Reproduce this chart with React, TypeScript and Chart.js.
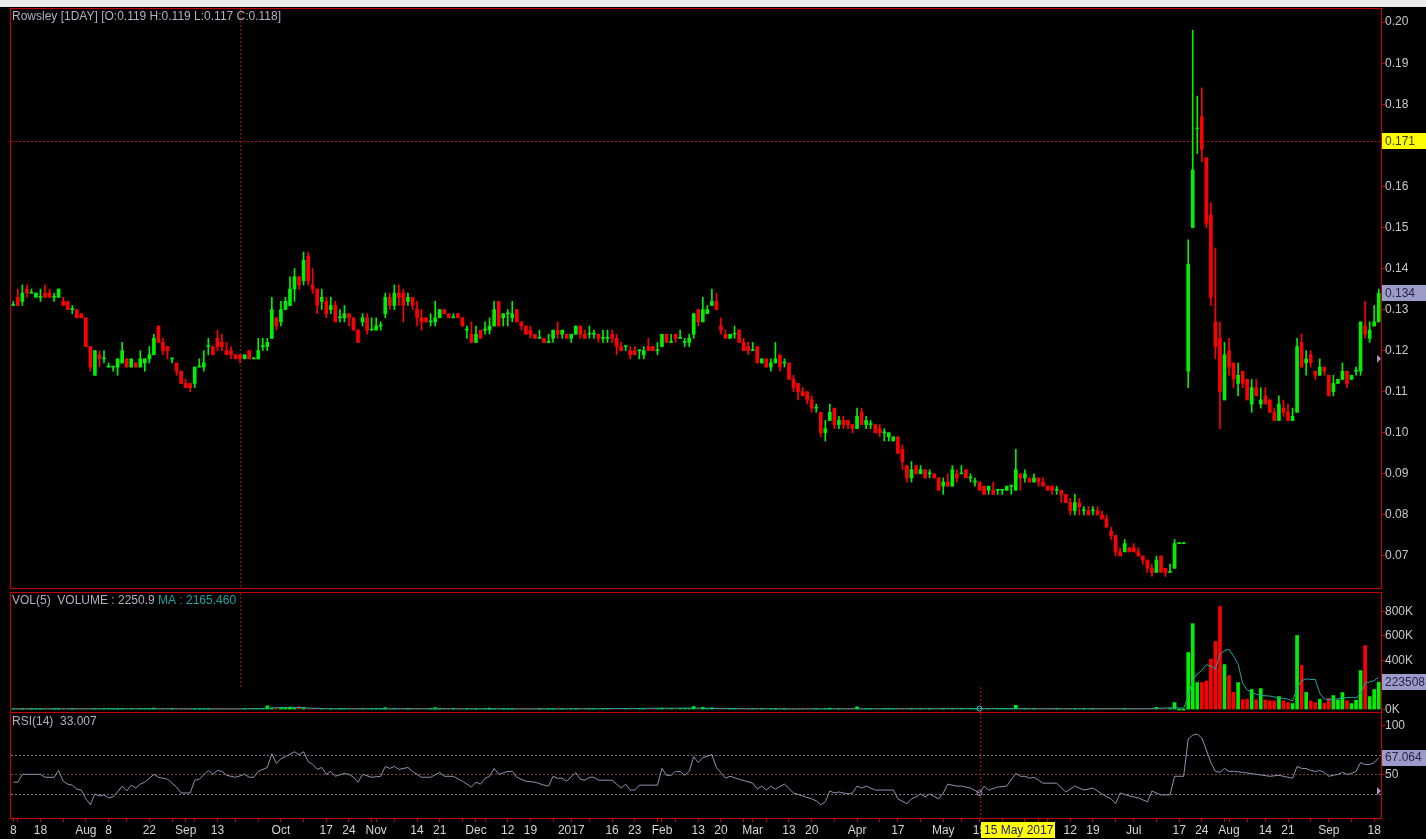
import React, { useEffect, useRef } from 'react';
import { Chart, registerables } from 'chart.js';

Chart.register(...registerables);

// ---------------- calendar ----------------
const startDate = '2016-07-08';
const endDate = '2017-09-19';
const holidays = ['2016-08-09', '2016-09-12', '2016-12-26', '2017-01-02', '2017-01-30', '2017-04-14', '2017-05-01', '2017-05-10', '2017-06-26', '2017-08-09', '2017-09-01'];

const xTickDates = ['2016-07-08', '2016-07-18', '2016-08-01', '2016-08-08', '2016-08-22', '2016-09-01', '2016-09-13', '2016-10-03', '2016-10-17', '2016-10-24',
  '2016-11-01', '2016-11-14', '2016-11-21', '2016-12-01', '2016-12-12', '2016-12-19', '2017-01-03', '2017-01-16', '2017-01-23', '2017-02-01',
  '2017-02-13', '2017-02-20', '2017-03-01', '2017-03-13', '2017-03-20', '2017-04-03', '2017-04-17', '2017-05-02', '2017-05-15', '2017-05-22',
  '2017-06-01', '2017-06-12', '2017-06-19', '2017-07-03', '2017-07-17', '2017-07-24', '2017-08-01', '2017-08-14', '2017-08-21', '2017-09-04',
  '2017-09-18'];
const xTickTexts = ['8', '18', 'Aug', '8', '22', 'Sep', '13', 'Oct', '17', '24',
  'Nov', '14', '21', 'Dec', '12', '19', '2017', '16', '23', 'Feb',
  '13', '20', 'Mar', '13', '20', 'Apr', '17', 'May', '15', '22',
  'Jun', '12', '19', 'Jul', '17', '24', 'Aug', '14', '21', 'Sep',
  '18'];

// ---------------- prices (in 0.001) ----------------
const opens = [
  131, 133, 132, 135, 134, 133, 133, 134, 134, 133,
  133, 132, 132, 130, 130, 129, 128, 121, 114, 119,
  118, 116, 116, 116, 117, 118, 116, 117, 116, 117,
  118, 119, 126, 122, 121, 118, 117, 115, 112, 112,
  112, 116, 116, 121, 121, 123, 122, 120, 120, 119,
  119, 118, 120, 118, 118, 121, 121, 123, 128, 127,
  130, 131, 135, 138, 137, 143, 136, 135, 132, 132,
  130, 131, 128, 128, 129, 128, 125, 127, 128, 125,
  125, 126, 129, 133, 131, 134, 134, 132, 133, 130,
  128, 128, 127, 127, 128, 130, 129, 128, 129, 128,
  125, 124, 122, 125, 125, 125, 126, 132, 128, 129,
  128, 130, 127, 126, 125, 124, 123, 123, 122, 123,
  125, 124, 124, 123, 124, 126, 124, 124, 124, 124,
  123, 123, 124, 123, 121, 121, 120, 120, 120, 119,
  121, 121, 120, 121, 124, 122, 124, 123, 122, 122,
  124, 130, 127, 129, 131, 132, 126, 124, 123, 124,
  125, 122, 121, 120, 121, 117, 118, 116, 117, 119,
  117, 117, 113, 112, 110, 110, 108, 106, 105, 100,
  103, 106, 102, 103, 103, 102, 101, 105, 102, 102,
  102, 101, 100, 99, 98, 99, 96, 92, 89, 92,
  90, 91, 90, 90, 89, 87, 88, 87, 90, 90,
  91, 89, 88, 88, 87, 86, 86, 86, 86, 86,
  87, 86, 90, 89, 89, 88, 89, 88, 87, 87,
  86, 86, 85, 83, 81, 83, 81, 81, 81, 81,
  80, 79, 76, 75, 71, 71, 72, 72, 71, 70,
  69, 67, 66, 70, 67, 66, 67, 73, 73, 115,
  150, 174, 177, 167, 153, 127, 123, 108, 120, 117,
  112, 115, 113, 107, 111, 107, 109, 108, 105, 103,
  106, 105, 103, 105, 122, 117, 119, 115, 114, 116,
  114, 110, 112, 113, 115, 113, 115, 115, 126, 123,
  126, 127,
];
const highs = [
  132, 135, 136, 136, 135, 134, 135, 136, 135, 134,
  135, 133, 132, 131, 130, 129, 128, 121, 120, 120,
  120, 117, 116, 118, 122, 118, 118, 117, 120, 118,
  121, 124, 126, 123, 121, 118, 117, 115, 113, 112,
  116, 118, 120, 123, 121, 125, 124, 122, 121, 119,
  119, 119, 120, 118, 123, 123, 123, 133, 128, 132,
  133, 138, 140, 138, 144, 144, 140, 135, 135, 133,
  133, 132, 130, 131, 129, 128, 125, 129, 129, 128,
  128, 127, 134, 134, 136, 136, 135, 134, 133, 132,
  130, 128, 129, 132, 130, 130, 129, 129, 129, 128,
  126, 127, 126, 125, 127, 128, 132, 132, 129, 130,
  132, 130, 127, 126, 126, 124, 125, 123, 124, 125,
  127, 125, 124, 124, 126, 126, 125, 126, 125, 124,
  125, 125, 125, 124, 122, 121, 121, 121, 120, 121,
  123, 121, 122, 124, 124, 124, 124, 125, 123, 124,
  129, 130, 133, 131, 135, 134, 128, 125, 124, 126,
  125, 123, 122, 122, 121, 118, 118, 118, 122, 119,
  118, 117, 114, 112, 111, 110, 109, 107, 105, 103,
  107, 106, 104, 104, 103, 102, 106, 106, 104, 103,
  102, 102, 101, 100, 99, 99, 97, 92, 93, 92,
  92, 91, 91, 90, 89, 89, 90, 92, 91, 92,
  91, 90, 89, 88, 87, 87, 88, 86, 86, 87,
  87, 96, 90, 91, 89, 90, 89, 89, 87, 87,
  87, 86, 85, 84, 85, 84, 82, 82, 82, 82,
  81, 80, 77, 75, 72, 74, 72, 73, 72, 70,
  69, 68, 70, 70, 67, 68, 74, 73, 73, 147,
  198, 182, 184, 167, 156, 145, 127, 122, 123, 117,
  117, 115, 113, 113, 113, 111, 111, 108, 106, 109,
  108, 107, 106, 123, 124, 120, 120, 115, 118, 116,
  114, 114, 113, 117, 115, 114, 116, 127, 132, 127,
  131, 135,
];
const lows = [
  131, 131, 131, 133, 134, 133, 132, 133, 133, 132,
  133, 131, 130, 129, 128, 128, 121, 115, 114, 116,
  117, 116, 115, 114, 117, 116, 116, 116, 116, 115,
  117, 119, 122, 119, 118, 117, 114, 112, 111, 110,
  111, 116, 115, 119, 119, 120, 120, 119, 118, 118,
  117, 118, 118, 118, 118, 120, 120, 123, 125, 126,
  130, 131, 132, 135, 136, 136, 134, 129, 130, 128,
  129, 127, 127, 127, 126, 125, 122, 126, 124, 125,
  125, 125, 128, 130, 130, 131, 127, 131, 130, 126,
  125, 127, 126, 126, 128, 129, 128, 128, 128, 126,
  123, 122, 122, 123, 124, 124, 126, 126, 126, 126,
  127, 127, 125, 124, 123, 123, 123, 122, 122, 122,
  123, 123, 123, 122, 124, 123, 123, 123, 123, 122,
  122, 122, 122, 119, 120, 120, 118, 119, 118, 118,
  120, 120, 119, 121, 122, 122, 122, 123, 121, 121,
  123, 126, 127, 129, 131, 130, 124, 123, 123, 123,
  122, 120, 119, 120, 117, 117, 116, 115, 117, 115,
  116, 113, 110, 108, 109, 107, 105, 105, 99, 98,
  103, 101, 101, 101, 101, 100, 101, 102, 101, 101,
  100, 99, 98, 98, 98, 95, 91, 88, 88, 90,
  90, 89, 89, 89, 86, 85, 87, 87, 88, 90,
  89, 88, 87, 86, 85, 85, 85, 85, 85, 86,
  85, 86, 86, 88, 88, 88, 87, 87, 86, 85,
  85, 83, 83, 80, 80, 80, 80, 80, 80, 80,
  79, 77, 74, 70, 70, 71, 71, 71, 70, 68,
  66, 65, 66, 66, 65, 66, 67, 73, 73, 111,
  150, 168, 166, 150, 131, 118, 101, 108, 114, 111,
  109, 111, 108, 105, 109, 106, 107, 105, 103, 103,
  104, 103, 103, 105, 116, 114, 116, 113, 114, 114,
  109, 109, 112, 113, 111, 113, 114, 114, 123, 122,
  126, 127,
];
const closes = [
  131, 131, 134, 134, 134, 134, 133, 133, 133, 133,
  135, 131, 130, 130, 128, 128, 121, 116, 120, 118,
  118, 116, 116, 118, 120, 116, 118, 116, 118, 118,
  119, 123, 122, 120, 120, 118, 115, 112, 111, 111,
  116, 116, 117, 121, 119, 121, 121, 119, 119, 118,
  118, 119, 118, 118, 120, 121, 122, 130, 126, 130,
  132, 135, 138, 136, 142, 137, 135, 131, 133, 129,
  131, 127, 128, 129, 128, 125, 122, 128, 125, 125,
  126, 126, 133, 131, 134, 133, 131, 133, 131, 128,
  127, 127, 127, 128, 130, 129, 128, 128, 128, 126,
  125, 122, 124, 123, 125, 126, 130, 126, 129, 129,
  129, 127, 126, 124, 124, 123, 123, 122, 122, 125,
  124, 125, 123, 124, 126, 124, 123, 124, 124, 123,
  123, 123, 123, 121, 120, 121, 119, 119, 120, 120,
  120, 120, 120, 124, 122, 122, 123, 123, 122, 123,
  129, 127, 130, 130, 132, 130, 125, 123, 124, 124,
  122, 120, 120, 120, 117, 118, 116, 117, 118, 116,
  117, 113, 111, 110, 109, 108, 106, 106, 100, 101,
  105, 102, 103, 102, 102, 101, 104, 102, 103, 102,
  100, 100, 100, 100, 99, 95, 93, 89, 91, 90,
  91, 89, 90, 89, 86, 88, 87, 91, 89, 90,
  89, 89, 88, 86, 85, 87, 85, 86, 86, 87,
  87, 91, 89, 90, 88, 89, 88, 87, 86, 86,
  86, 85, 83, 81, 83, 82, 81, 80, 81, 80,
  79, 77, 75, 71, 70, 73, 71, 71, 70, 69,
  67, 66, 69, 66, 66, 66, 73, 73, 73, 141,
  164, 174, 169, 151, 133, 121, 110, 119, 116, 113,
  114, 112, 108, 111, 109, 108, 107, 105, 103, 107,
  105, 103, 104, 121, 116, 118, 117, 114, 116, 115,
  109, 112, 113, 115, 112, 114, 115, 127, 124, 125,
  127, 134,
];

// ---------------- volume (K shares) ----------------
const volumes = [
  5, 4, 6, 3, 5, 4, 3, 6, 4, 5,
  3, 4, 5, 6, 4, 3, 5, 4, 6, 5,
  4, 3, 5, 4, 6, 3, 4, 5, 4, 6,
  5, 12, 4, 3, 5, 6, 4, 5, 3, 4,
  6, 5, 4, 3, 5, 4, 6, 4, 3, 5,
  2, 4, 5, 3, 6, 4, 30, 12, 15, 18,
  15, 20, 12, 22, 10, 8, 6, 5, 7, 4,
  5, 6, 4, 5, 3, 6, 4, 5, 4, 3,
  5, 4, 15, 6, 4, 5, 3, 4, 6, 5,
  4, 5, 3, 15, 4, 6, 5, 4, 3, 5,
  4, 6, 5, 3, 4, 12, 5, 6, 4, 3,
  5, 4, 6, 3, 5, 4, 3, 5, 4, 6,
  5, 3, 4, 6, 4, 5, 3, 4, 5, 6,
  4, 3, 5, 4, 6, 5, 3, 4, 5, 4,
  3, 5, 4, 12, 5, 6, 4, 3, 5, 6,
  25, 8, 18, 6, 14, 5, 4, 6, 3, 5,
  4, 5, 6, 3, 4, 5, 4, 6, 10, 5,
  4, 3, 5, 6, 4, 5, 3, 4, 6, 5,
  12, 4, 5, 3, 6, 4, 22, 5, 4, 6,
  3, 5, 4, 6, 4, 5, 3, 4, 5, 6,
  4, 3, 5, 4, 6, 5, 4, 3, 5, 4,
  6, 5, 4, 8, 5, 3, 4, 6, 5, 4,
  5, 35, 6, 4, 5, 3, 4, 6, 5, 4,
  3, 5, 4, 6, 5, 4, 3, 5, 4, 6,
  5, 4, 6, 3, 5, 4, 5, 3, 4, 6,
  5, 4, 18, 5, 4, 6, 57, 0, 0, 465,
  700, 220, 220, 232, 410, 555, 840, 367, 277, 140,
  220, 80, 85, 163, 80, 171, 78, 71, 71, 106,
  71, 57, 49, 604, 359, 140, 71, 57, 85, 51,
  90, 114, 79, 139, 71, 49, 76, 318, 522, 106,
  163, 223.508,
];

// MA(5) of volume: [day index, K]
const volMaPoints = [
  [0, 5], [30, 6], [50, 5], [56, 10], [58, 15], [60, 17], [62, 18], [64, 16], [66, 10], [70, 6],
  [90, 6], [120, 5], [150, 12], [156, 8], [170, 5], [220, 8], [226, 6], [250, 6], [256, 15], [257, 12],
  [258, 12], [259, 105], [260, 245], [261, 290], [262, 320], [263, 365], [264, 355], [265, 330], [266, 450], [267, 480],
  [268, 490], [269, 435], [270, 370], [271, 215], [272, 160], [273, 140], [274, 125], [275, 115], [277, 110], [279, 95],
  [281, 85], [282, 70], [283, 175], [284, 235], [285, 250], [286, 245], [287, 245], [288, 135], [289, 85], [291, 80],
  [293, 95], [295, 100], [296, 95], [297, 130], [298, 215], [299, 225], [300, 235], [301, 265],
];

// RSI(14): [day index, value]
const rsiPoints = [
  [0, 42], [1, 42], [2, 50], [6, 50], [7, 47], [9, 47], [10, 54], [11, 43], [12, 40], [13, 39],
  [14, 35], [15, 34], [16, 25], [17, 19], [18, 30], [19, 28], [20, 29], [21, 26], [22, 27], [23, 32],
  [24, 38], [25, 33], [26, 39], [27, 36], [28, 40], [29, 42], [31, 50], [32, 47], [34, 45], [36, 37],
  [37, 31], [39, 31], [40, 44], [41, 45], [43, 54], [44, 50], [45, 54], [46, 53], [47, 49], [49, 47],
  [51, 50], [52, 47], [53, 47], [54, 53], [56, 57], [57, 71], [58, 61], [59, 66], [60, 68], [62, 73],
  [63, 70], [64, 73], [65, 63], [66, 60], [67, 55], [68, 57], [69, 50], [70, 53], [71, 48], [73, 51],
  [74, 50], [75, 47], [76, 42], [77, 50], [79, 47], [81, 48], [82, 58], [83, 56], [84, 58], [85, 55],
  [87, 57], [88, 53], [90, 47], [92, 47], [94, 52], [95, 48], [97, 48], [99, 43], [101, 37], [102, 42],
  [103, 40], [104, 46], [105, 48], [106, 56], [107, 50], [109, 53], [110, 53], [111, 47], [113, 43], [115, 42],
  [117, 39], [118, 38], [119, 48], [120, 46], [121, 46], [122, 43], [124, 52], [125, 45], [126, 44], [127, 47],
  [128, 47], [129, 44], [132, 44], [133, 40], [134, 36], [135, 40], [136, 34], [137, 34], [138, 39], [142, 39],
  [143, 56], [144, 49], [145, 49], [146, 53], [147, 53], [148, 49], [149, 53], [150, 68], [151, 62], [152, 67],
  [154, 70], [155, 57], [157, 46], [158, 48], [160, 45], [163, 41], [164, 35], [165, 38], [166, 34], [167, 38],
  [168, 35], [170, 40], [172, 31], [174, 28], [176, 25], [177, 23], [178, 19], [179, 22], [180, 33], [181, 31],
  [182, 32], [184, 30], [185, 31], [186, 38], [187, 36], [188, 38], [190, 34], [194, 34], [195, 25], [197, 20],
  [198, 25], [199, 27], [200, 30], [201, 27], [202, 30], [204, 25], [205, 31], [206, 40], [208, 38], [209, 38],
  [211, 36], [213, 31], [214, 38], [215, 34], [217, 37], [219, 38], [221, 51], [222, 48], [223, 48], [224, 46],
  [225, 47], [227, 41], [230, 41], [232, 32], [234, 38], [236, 34], [238, 36], [240, 30], [242, 25], [243, 20],
  [244, 31], [246, 28], [248, 26], [250, 22], [251, 33], [253, 29], [255, 29], [256, 48], [257, 48], [258, 48],
  [259, 86], [260, 90], [261, 91], [262, 87], [263, 75], [264, 62], [265, 53], [266, 52], [267, 56], [268, 53],
  [269, 53], [271, 52], [274, 50], [277, 48], [279, 49], [282, 46], [283, 58], [284, 56], [285, 56], [286, 54],
  [287, 53], [288, 54], [289, 52], [290, 48], [291, 49], [292, 50], [293, 52], [294, 50], [295, 51], [296, 53],
  [297, 62], [298, 60], [299, 60], [300, 62], [301, 67],
];

// axis ticks
const priceTicks = [0.07, 0.08, 0.09, 0.10, 0.11, 0.12, 0.13, 0.14, 0.15, 0.16, 0.17, 0.18, 0.19, 0.20];
const volTicks = [0, 200, 400, 600, 800];
const rsiTicks = [50, 100];
const rsiLevels = [30, 50, 70];

// cursor / header readouts
const crosshairDayA = 50;
const crosshairDayB = 213;
const cursorPrice = 0.171;
const cursorVolK = 184;
const headerVolume = '2250.9';
const headerVolMa = '2165.460';
const headerRsi = '33.007';
const lastRsiText = '67.064';
const cursorDateText = '15 May 2017';

// ---------------- derived ----------------
function tradingDays(): string[] {
  const out: string[] = [];
  const d = new Date(startDate + 'T00:00:00Z');
  const end = new Date(endDate + 'T00:00:00Z');
  while (d.getTime() <= end.getTime()) {
    const dow = d.getUTCDay();
    const s = d.toISOString().slice(0, 10);
    if (dow !== 0 && dow !== 6 && holidays.indexOf(s) < 0) out.push(s);
    d.setUTCDate(d.getUTCDate() + 1);
  }
  return out;
}
const dates = tradingDays();
const N = dates.length;
const dow = (s: string) => new Date(s + 'T00:00:00Z').getUTCDay();

const tickText: Record<number, string> = {};
xTickDates.forEach((d, k) => {
  const i = dates.indexOf(d);
  if (i >= 0) tickText[i] = xTickTexts[k];
});
const weekTicks: number[] = [];
for (let i = 0; i < N; i++) {
  if (i === 0 || dow(dates[i]) < dow(dates[i - 1]) || tickText[i] !== undefined) weekTicks.push(i);
}

// ---------------- styles ----------------
const FONT = '"Liberation Sans", Arial, sans-serif';
const RED = '#c80000';
const UP = '#00f000';
const DOWN = '#ff0000';
const AXIS_TEXT = '#c8c8c8';
const HEAD_TEXT = '#b0b0c4';
const LAV = '#9c9cc8';
const LAV_TEXT = '#26264a';
const MA_COLOR = '#1fa5a5';
const RSI_COLOR = '#9090b4';
const W = 1426;
const PLOT_LEFT = 11;
const AXIS_W = 45;

const candleColors = closes.map((c, i) => (c >= opens[i] ? UP : DOWN));

function snap(v: number) {
  return Math.round(v) + 0.5;
}
function dotted(ctx: any, x1: number, y1: number, x2: number, y2: number, color: string, dash = [2, 2]) {
  ctx.save();
  ctx.beginPath();
  ctx.setLineDash(dash);
  ctx.strokeStyle = color;
  ctx.lineWidth = 1;
  ctx.moveTo(x1, y1);
  ctx.lineTo(x2, y2);
  ctx.stroke();
  ctx.restore();
}
function border(chart: any) {
  const { ctx, chartArea: ca } = chart;
  ctx.save();
  ctx.strokeStyle = RED;
  ctx.lineWidth = 1;
  ctx.setLineDash([]);
  ctx.strokeRect(ca.left - 0.5, ca.top - 0.5, ca.right - ca.left + 1, ca.bottom - ca.top + 1);
  ctx.restore();
}
function text(ctx: any, s: string, x: number, y: number, color: string, align = 'left') {
  ctx.save();
  ctx.font = `12px ${FONT}`;
  ctx.fillStyle = color;
  ctx.textBaseline = 'middle';
  ctx.textAlign = align;
  ctx.fillText(s, x, y);
  ctx.restore();
}
function valueBox(chart: any, y: number, s: string, bg: string, fg: string) {
  const { ctx, chartArea: ca } = chart;
  const x = ca.right + 1;
  ctx.save();
  ctx.fillStyle = bg;
  ctx.fillRect(x, Math.round(y - 8), W - x, 16);
  ctx.restore();
  text(ctx, s, x + 3, y + 0.5, fg);
}
function triangle(chart: any, y: number) {
  const { ctx, chartArea: ca } = chart;
  ctx.save();
  ctx.fillStyle = LAV;
  ctx.beginPath();
  ctx.moveTo(ca.right - 4, y - 4);
  ctx.lineTo(ca.right, y);
  ctx.lineTo(ca.right - 4, y + 4);
  ctx.closePath();
  ctx.fill();
  ctx.restore();
}

const xHidden = { type: 'linear', min: -0.5, max: N - 0.5, offset: false, display: false };

function rightAxis(min: number, max: number, ticks: number[], fmt: (v: number) => string) {
  return {
    type: 'linear',
    position: 'right',
    min,
    max,
    beginAtZero: false,
    afterBuildTicks: (s: any) => {
      s.ticks = ticks.map((v) => ({ value: v }));
    },
    afterFit: (s: any) => {
      s.width = AXIS_W;
    },
    ticks: { callback: (v: any) => fmt(Number(v)), color: AXIS_TEXT, font: { family: FONT, size: 12 }, padding: 0, autoSkip: false },
    grid: { drawOnChartArea: false, color: RED, tickLength: 4 },
    border: { color: RED },
  };
}

const baseOptions = (padding: any) => ({
  animation: false,
  responsive: false,
  devicePixelRatio: 1,
  events: [],
  layout: { padding },
  plugins: { legend: { display: false }, tooltip: { enabled: false } },
});

function mainConfig(): any {
  const decor = {
    id: 'mainDecor',
    beforeDatasetsDraw(chart: any) {
      const { ctx, chartArea: ca, scales } = chart;
      const cx = snap(scales.x.getPixelForValue(crosshairDayA));
      dotted(ctx, cx, ca.top, cx, ca.bottom, '#b00000');
      const cy = snap(scales.y.getPixelForValue(cursorPrice));
      dotted(ctx, ca.left, cy, ca.right, cy, '#b00000');
    },
    afterDraw(chart: any) {
      const { ctx, scales } = chart;
      border(chart);
      const i = crosshairDayA;
      const f = (v: number) => (v / 1000).toFixed(3);
      text(ctx, `Rowsley [1DAY] [O:${f(opens[i])} H:${f(highs[i])} L:${f(lows[i])} C:${f(closes[i])}]`, 12, 17, HEAD_TEXT);
      valueBox(chart, scales.y.getPixelForValue(cursorPrice), cursorPrice.toFixed(3), '#ffff00', '#3a3a00');
      const last = closes[N - 1] / 1000;
      valueBox(chart, scales.y.getPixelForValue(last), last.toFixed(3), LAV, LAV_TEXT);
      triangle(chart, scales.y.getPixelForValue(closes[i] / 1000));
    },
  };
  return {
    type: 'bar',
    data: {
      datasets: [
        {
          data: dates.map((_, i) => ({ x: i, y: [opens[i] / 1000, closes[i] / 1000] })),
          backgroundColor: candleColors,
          borderWidth: 0,
          barThickness: 3,
          minBarLength: 1,
          grouped: false,
          order: 0,
        },
        {
          data: dates.map((_, i) => ({ x: i, y: [lows[i] / 1000, highs[i] / 1000] })),
          backgroundColor: candleColors,
          borderWidth: 0,
          barThickness: 1,
          minBarLength: 1,
          grouped: false,
          order: 1,
        },
      ],
    },
    options: {
      ...baseOptions({ top: 9, left: PLOT_LEFT, right: 0, bottom: 12 }),
      scales: {
        x: xHidden,
        y: rightAxis(0.0622, 0.2032, priceTicks, (v) => v.toFixed(2)),
      },
    },
    plugins: [decor],
  };
}

function volConfig(): any {
  const decor = {
    id: 'volDecor',
    beforeDatasetsDraw(chart: any) {
      const { ctx, chartArea: ca, scales } = chart;
      const ya = scales.y.getPixelForValue(cursorVolK);
      const xa = snap(scales.x.getPixelForValue(crosshairDayA));
      dotted(ctx, xa, ca.top, xa, ya, '#b00000');
      const xb = snap(scales.x.getPixelForValue(crosshairDayB));
      dotted(ctx, xb, ya, xb, ca.bottom, '#b00000');
    },
    afterDraw(chart: any) {
      const { ctx, scales } = chart;
      border(chart);
      text(ctx, `VOL(5)  VOLUME : ${headerVolume}`, 12, 18, HEAD_TEXT);
      text(ctx, `MA : ${headerVolMa}`, 158, 18, MA_COLOR);
      const lastV = volumes[N - 1];
      valueBox(chart, scales.y.getPixelForValue(lastV), String(Math.round(lastV * 1000)), LAV, LAV_TEXT);
      ctx.save();
      ctx.strokeStyle = '#30c0c0';
      ctx.lineWidth = 1;
      ctx.beginPath();
      ctx.arc(scales.x.getPixelForValue(crosshairDayB), scales.y.getPixelForValue(0) - 1, 2.5, 0, Math.PI * 2);
      ctx.stroke();
      ctx.restore();
    },
  };
  return {
    type: 'bar',
    data: {
      datasets: [
        {
          type: 'line',
          data: volMaPoints.map(([i, v]) => ({ x: i, y: v })),
          borderColor: MA_COLOR,
          borderWidth: 1,
          pointRadius: 0,
          tension: 0,
          order: 0,
        },
        {
          type: 'bar',
          data: volumes.map((v, i) => ({ x: i, y: v })),
          backgroundColor: candleColors,
          borderWidth: 0,
          barThickness: 3,
          minBarLength: 1,
          grouped: false,
          order: 1,
        },
      ],
    },
    options: {
      ...baseOptions({ top: 10, left: PLOT_LEFT, right: 0, bottom: 11 }),
      scales: {
        x: xHidden,
        y: rightAxis(-20, 950, volTicks, (v) => `${v}K`),
      },
    },
    plugins: [decor],
  };
}

function rsiConfig(): any {
  const decor = {
    id: 'rsiDecor',
    beforeDatasetsDraw(chart: any) {
      const { ctx, chartArea: ca, scales } = chart;
      rsiLevels.forEach((lv) => {
        const y = snap(scales.y.getPixelForValue(lv));
        dotted(ctx, ca.left, y, ca.right, y, lv === 50 ? '#7a4a30' : '#7a7a7a');
      });
      const xb = snap(scales.x.getPixelForValue(crosshairDayB));
      dotted(ctx, xb, ca.top, xb, ca.bottom, '#b00000');
    },
    afterDraw(chart: any) {
      const { ctx, chartArea: ca, scales } = chart;
      border(chart);
      text(ctx, `RSI(14)  ${headerRsi}`, 12, 19, HEAD_TEXT);
      const lastR = rsiPoints[rsiPoints.length - 1][1];
      valueBox(chart, scales.y.getPixelForValue(lastR), lastRsiText, LAV, LAV_TEXT);
      triangle(chart, scales.y.getPixelForValue(Number(headerRsi)));
      const pb = rsiPoints.find((p) => p[0] === crosshairDayB);
      if (pb) {
        ctx.save();
        ctx.strokeStyle = RSI_COLOR;
        ctx.lineWidth = 1;
        ctx.beginPath();
        ctx.arc(scales.x.getPixelForValue(crosshairDayB), scales.y.getPixelForValue(pb[1]), 2.5, 0, Math.PI * 2);
        ctx.stroke();
        ctx.restore();
      }
      // date readout box on the time axis
      const bx = Math.round(scales.x.getPixelForValue(crosshairDayB)) + 1;
      ctx.save();
      ctx.fillStyle = '#ffff00';
      ctx.fillRect(bx, ca.bottom + 4, 74, 16);
      ctx.restore();
      text(ctx, cursorDateText, bx + 3, ca.bottom + 12.5, '#1a1a80');
    },
  };
  return {
    type: 'line',
    data: {
      datasets: [
        {
          data: rsiPoints.map(([i, v]) => ({ x: i, y: v })),
          borderColor: RSI_COLOR,
          borderWidth: 1,
          pointRadius: 0,
          tension: 0,
        },
      ],
    },
    options: {
      ...baseOptions({ top: 10, left: PLOT_LEFT, right: 0, bottom: 0 }),
      scales: {
        x: {
          type: 'linear',
          min: -0.5,
          max: N - 0.5,
          offset: false,
          position: 'bottom',
          afterBuildTicks: (s: any) => {
            s.ticks = weekTicks.map((v) => ({ value: v }));
          },
          afterFit: (s: any) => {
            s.height = 21;
          },
          ticks: {
            callback: (v: any) => tickText[Number(v)] ?? '',
            autoSkip: false,
            maxRotation: 0,
            minRotation: 0,
            color: '#d4d4d4',
            font: { family: FONT, size: 12 },
            padding: 1,
          },
          grid: { drawOnChartArea: false, color: RED, tickLength: 4 },
          border: { display: false },
        },
        y: rightAxis(5.5, 112.5, rsiTicks, (v) => String(v)),
      },
    },
    plugins: [decor],
  };
}

export default function App() {
  const mainRef = useRef<HTMLCanvasElement>(null);
  const volRef = useRef<HTMLCanvasElement>(null);
  const rsiRef = useRef<HTMLCanvasElement>(null);

  useEffect(() => {
    const charts = [
      new Chart(mainRef.current as HTMLCanvasElement, mainConfig()),
      new Chart(volRef.current as HTMLCanvasElement, volConfig()),
      new Chart(rsiRef.current as HTMLCanvasElement, rsiConfig()),
    ];
    return () => charts.forEach((c) => c.destroy());
  }, []);

  const abs = (top: number, h: number): any => ({ position: 'absolute', left: 0, top, width: W, height: h, display: 'block' });

  return (
    <div style={{ position: 'absolute', left: 0, top: 0, width: W, height: 839, background: '#000', overflow: 'hidden' }}>
      <div style={{ position: 'absolute', left: 0, top: 0, width: W, height: 7, background: '#ebebeb' }} />
      <canvas ref={mainRef} width={W} height={600} style={abs(0, 600)} />
      <canvas ref={volRef} width={W} height={140} style={abs(583, 140)} />
      <canvas ref={rsiRef} width={W} height={136} style={abs(703, 136)} />
    </div>
  );
}
